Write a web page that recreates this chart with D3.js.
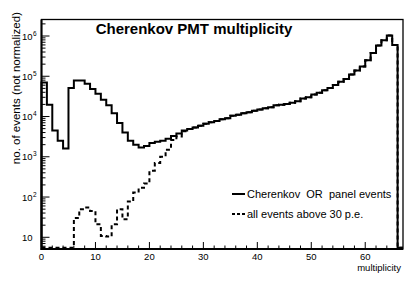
<!DOCTYPE html>
<html>
<head>
<meta charset="utf-8">
<script src="https://cdn.jsdelivr.net/npm/d3@7"></script>
<style>
  html, body { margin: 0; padding: 0; background: #fff; }
  svg { display: block; font-family: "Liberation Sans", Arial, Helvetica, sans-serif; }
</style>
</head>
<body>
<svg id="chart" width="415" height="284"></svg>
<script>
// bins 0..66 (multiplicity), counts per bin
const cherenkovOrPanel = [
    70000, 19500, 4500, 2500, 1600, 51000, 79000, 79000, 65000, 48000,
    37000, 26000, 19000, 12000, 6900, 4000, 2500, 2000, 1700, 1850,
    2200, 2350, 2500, 2800, 3300, 3800, 4500, 4900, 5300, 5900,
    6600, 7200, 7700, 8500, 9100, 10500, 11000, 12000, 12800, 14000,
    15000, 16000, 17000, 19000, 19500, 20500, 22000, 24000, 28000, 30000,
    35000, 39000, 45000, 51000, 61000, 73000, 85000, 110000, 140000, 175000,
    250000, 380000, 580000, 780000, 1030000, 600000, 0
];
const above30pe = [
    0, 0, 0, 0, 0, 0, 30, 50, 55, 45,
    21, 10.8, 10.4, 21, 50, 28, 77, 130, 170, 218,
    450, 700, 1000, 1500, 2600, 3200, 4300, 4900, 5300, 5900,
    6600, 7200, 7700, 8500, 9100, 10500, 11000, 12000, 12800, 14000,
    15000, 16000, 17000, 19000, 19500, 20500, 22000, 24000, 28000, 30000,
    35000, 39000, 45000, 51000, 61000, 73000, 85000, 110000, 140000, 175000,
    250000, 380000, 580000, 780000, 1030000, 600000, 0
];
const xMajorTicks = [0, 10, 20, 30, 40, 50, 60];
const yDecades = [1, 2, 3, 4, 5, 6];
const legendLabels = ['Cherenkov  OR  panel events', 'all events above 30 p.e.'];

const margens = { left: 41.5, right: 12, top: 19.5, bottom: 35 };
const svg = d3.select('#chart');
const svgWidth = +svg.attr('width');
const svgHeight = +svg.attr('height');
const plotRight = svgWidth - margens.right;
const plotBottom = svgHeight - margens.bottom;

// ---- Escalas
const mapX = d3.scaleLinear().domain([0, 67]).range([margens.left, plotRight]);
const mapY = d3.scaleLog().domain([5.12, 2.57e6]).range([plotBottom, margens.top]);
const yFloor = 5.5;

function stepPoints(values) {
    const pts = [[0, yFloor]];
    values.forEach((v, i) => {
        const vv = Math.max(v, yFloor);
        pts.push([i, vv]);
        pts.push([i + 1, vv]);
    });
    return pts;
}

const line = d3.line()
    .x(d => mapX(d[0]))
    .y(d => mapY(d[1]));

// ---- Histogramas
svg.append('path')
    .attr('d', line(stepPoints(above30pe)))
    .attr('fill', 'none')
    .attr('stroke', '#000')
    .attr('stroke-width', 2)
    .attr('stroke-dasharray', '4,3');

svg.append('path')
    .attr('d', line(stepPoints(cherenkovOrPanel)))
    .attr('fill', 'none')
    .attr('stroke', '#000')
    .attr('stroke-width', 2);

// ---- Moldura
svg.append('rect')
    .attr('x', margens.left)
    .attr('y', margens.top)
    .attr('width', plotRight - margens.left)
    .attr('height', plotBottom - margens.top)
    .attr('fill', 'none')
    .attr('stroke', '#000')
    .attr('stroke-width', 1.3);

// ---- Eixo X
const xMinor = d3.range(0, 67, 2).filter(v => v % 10 !== 0);
const gx = svg.append('g').attr('id', 'axisX');
gx.selectAll('.major').data(xMajorTicks).join('line')
    .attr('class', 'major')
    .attr('x1', d => mapX(d)).attr('x2', d => mapX(d))
    .attr('y1', plotBottom).attr('y2', plotBottom - 7)
    .attr('stroke', '#000').attr('stroke-width', 1);
gx.selectAll('.minor').data(xMinor).join('line')
    .attr('class', 'minor')
    .attr('x1', d => mapX(d)).attr('x2', d => mapX(d))
    .attr('y1', plotBottom).attr('y2', plotBottom - 3.5)
    .attr('stroke', '#000').attr('stroke-width', 1);
gx.selectAll('text').data(xMajorTicks).join('text')
    .attr('x', d => mapX(d))
    .attr('y', plotBottom + 10.5)
    .attr('text-anchor', 'middle')
    .attr('font-size', '9.5px')
    .text(d => d);
gx.append('line')
    .attr('x1', margens.left - 1).attr('x2', plotRight)
    .attr('y1', plotBottom).attr('y2', plotBottom)
    .attr('stroke', '#000').attr('stroke-width', 2);

// ---- Eixo Y (log)
const yMinor = [];
[1, 2, 3, 4, 5, 6].forEach(k => {
    for (let m = 2; m <= 9; m++) yMinor.push(m * Math.pow(10, k - 1));
});
yMinor.push(2e6);
const gy = svg.append('g').attr('id', 'axisY');
gy.selectAll('.major').data(yDecades).join('line')
    .attr('class', 'major')
    .attr('x1', margens.left).attr('x2', margens.left + 8)
    .attr('y1', d => mapY(Math.pow(10, d))).attr('y2', d => mapY(Math.pow(10, d)))
    .attr('stroke', '#000').attr('stroke-width', 1);
gy.selectAll('.minor').data(yMinor.filter(v => v >= 5.12 && v <= 2.57e6)).join('line')
    .attr('class', 'minor')
    .attr('x1', margens.left).attr('x2', margens.left + 4)
    .attr('y1', d => mapY(d)).attr('y2', d => mapY(d))
    .attr('stroke', '#000').attr('stroke-width', 1);

const yLabels = gy.selectAll('.ylab').data(yDecades).join('g')
    .attr('class', 'ylab')
    .attr('transform', d => `translate(32.5, ${mapY(Math.pow(10, d)) + 3.5})`);
yLabels.append('text')
    .attr('text-anchor', 'end')
    .attr('font-size', '9.5px')
    .text('10');
yLabels.filter(d => d > 1).append('text')
    .attr('x', 0.5)
    .attr('y', -4)
    .attr('font-size', '6.5px')
    .text(d => d);
gy.append('line')
    .attr('x1', margens.left).attr('x2', margens.left)
    .attr('y1', margens.top).attr('y2', plotBottom + 1)
    .attr('stroke', '#000').attr('stroke-width', 2);

// ---- Títulos
svg.append('text')
    .attr('x', 194)
    .attr('y', 33.5)
    .attr('text-anchor', 'middle')
    .attr('font-size', '15px')
    .attr('font-weight', '700')
    .text('Cherenkov PMT multiplicity');

svg.append('text')
    .attr('x', plotRight - 2)
    .attr('y', plotBottom + 22)
    .attr('text-anchor', 'end')
    .attr('font-size', '9.5px')
    .text('multiplicity');

svg.append('text')
    .attr('transform', 'translate(19.5, 12) rotate(-90)')
    .attr('text-anchor', 'end')
    .attr('font-size', '11.5px')
    .text('no. of events (not normalized)');

// ---- Legenda
const legend = svg.append('g')
    .attr('id', 'legend')
    .attr('transform', 'translate(232, 194)');
const legendItems = legend.selectAll('.legend-item').data(legendLabels).join('g')
    .attr('class', 'legend-item')
    .attr('transform', (d, i) => `translate(0, ${i * 20})`);
legendItems.append('line')
    .attr('x1', 0).attr('x2', 13)
    .attr('y1', 0).attr('y2', 0)
    .attr('stroke', '#000')
    .attr('stroke-width', 2)
    .attr('stroke-dasharray', (d, i) => i === 0 ? null : '3,2');
legendItems.append('text')
    .attr('x', 15)
    .attr('y', 4)
    .attr('font-size', '11px')
    .style('white-space', 'pre')
    .text(d => d);
</script>
</body>
</html>
